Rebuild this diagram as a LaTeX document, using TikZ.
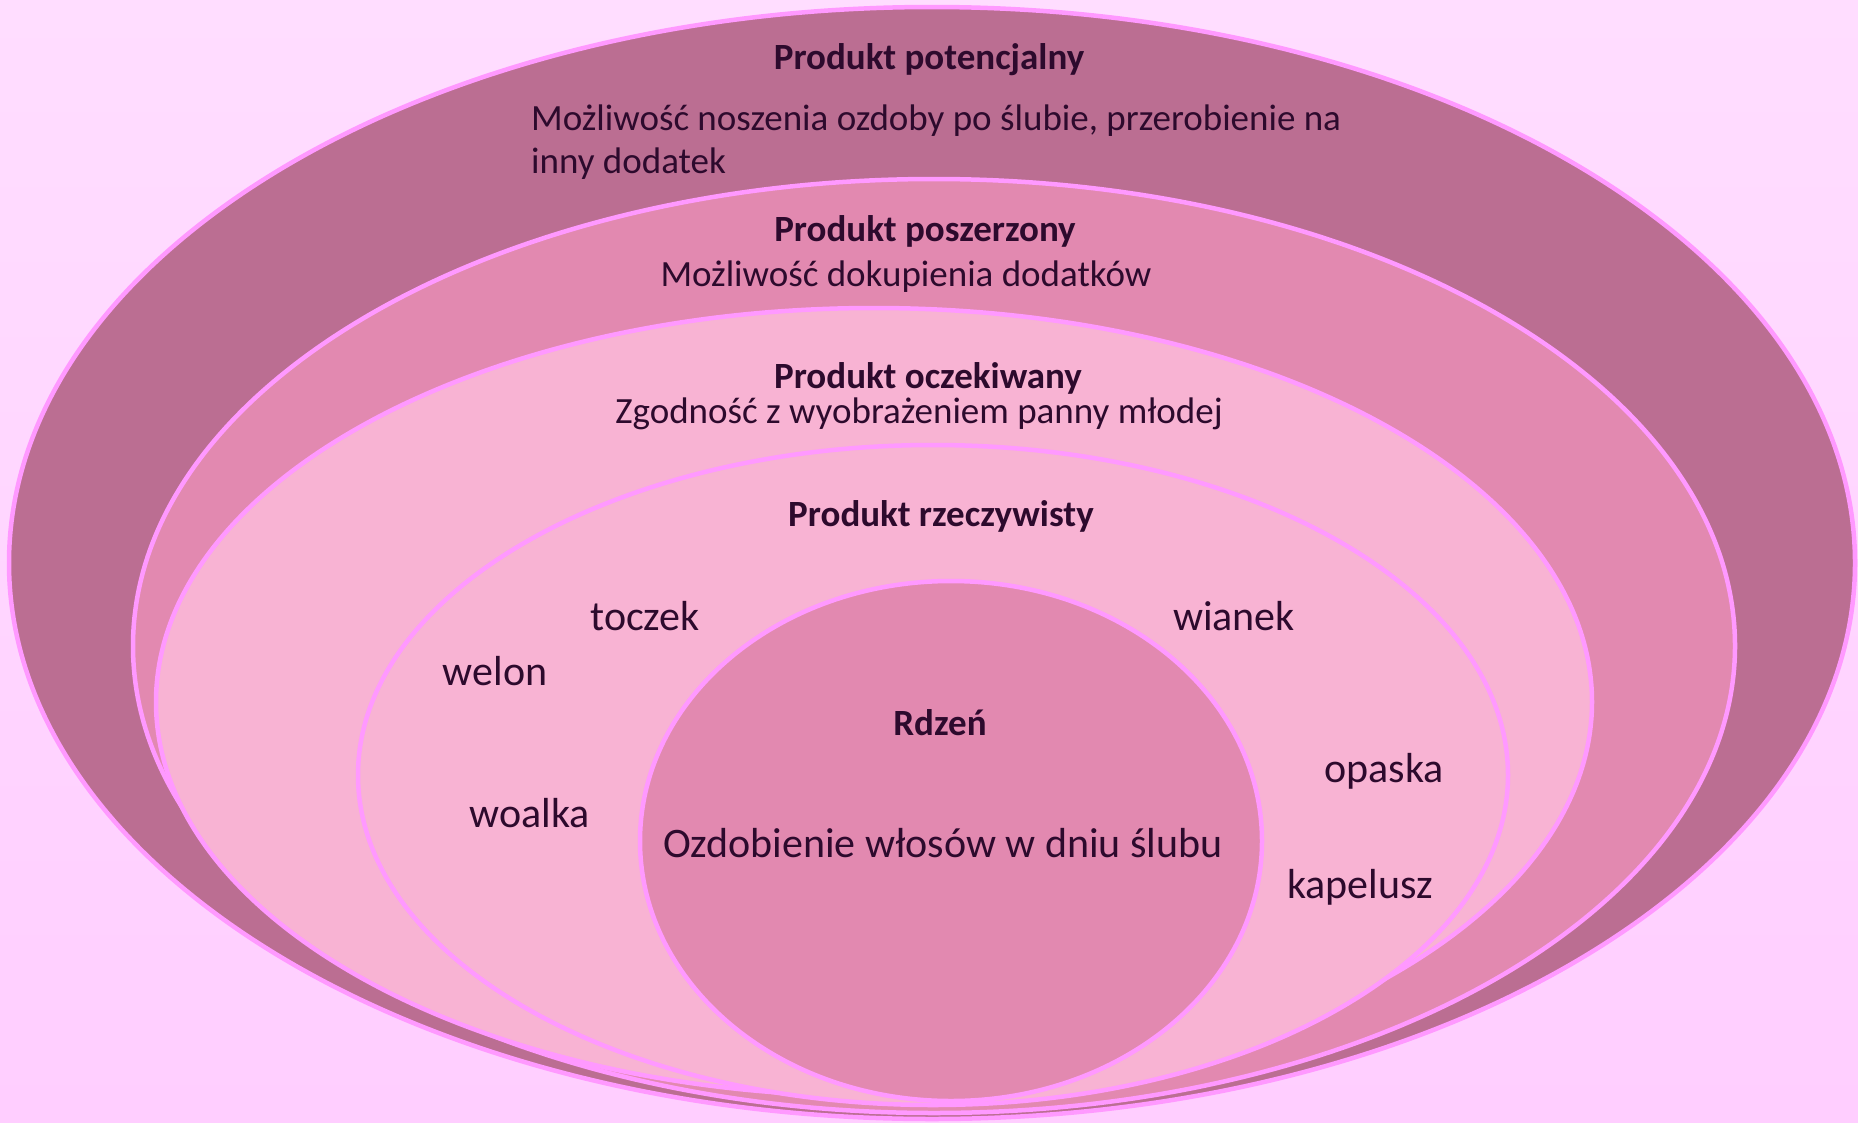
\documentclass[tikz,border=0pt]{standalone}
\usepackage{fontspec}
\setmainfont{Carlito}
\definecolor{bgtop}{RGB}{255,221,255}
\definecolor{bgmid}{RGB}{255,176,255}
\definecolor{bgbot}{RGB}{255,206,255}
\definecolor{ringc}{RGB}{255,153,255}
\definecolor{cdark}{RGB}{187,110,146}
\definecolor{cmid}{RGB}{226,137,176}
\definecolor{clight}{RGB}{248,179,211}
\definecolor{textc}{RGB}{45,10,45}
\begin{document}
\begin{tikzpicture}[x=1pt,y=-1pt,
  ring/.style={draw=ringc, line width=4.5pt},
  lbl/.style={text=textc, inner sep=0pt, anchor=base},
  headtxt/.style={lbl, font=\fontsize{37pt}{44pt}\selectfont\bfseries},
  bodytxt/.style={lbl, font=\fontsize{37pt}{44pt}\selectfont},
  itemtxt/.style={lbl, font=\fontsize{42pt}{50pt}\selectfont}]
\shade[top color=bgtop, middle color=bgmid, bottom color=bgbot] (0,0) rectangle (1858,1122);
\useasboundingbox (0,0) rectangle (1858,1122);
% rings
\draw[ring, fill=cdark]  (932,563) ellipse [x radius=923pt, y radius=556pt];
\draw[ring, fill=cmid]   (934,646) ellipse [x radius=801pt, y radius=467pt];
\draw[ring, fill=clight] (874,702) ellipse [x radius=718pt, y radius=394pt];
\draw[ring, fill=clight] (933,775) ellipse [x radius=575pt, y radius=330pt];
\draw[ring, fill=cmid]   (951,841) ellipse [x radius=311pt, y radius=260pt];
% texts
\node[headtxt] (hpot) at (929,69) {Produkt potencjalny};
\node[bodytxt, anchor=base west] (pot1) at (531,130) {Możliwość noszenia ozdoby po ślubie, przerobienie na};
\node[bodytxt, anchor=base west] (pot2) at (531,173) {inny dodatek};
\node[headtxt] (hposz) at (925,241) {Produkt poszerzony};
\node[bodytxt] (posz) at (906,286) {Możliwość dokupienia dodatków};
\node[headtxt] (hocz) at (928,388) {Produkt oczekiwany};
\node[bodytxt] (ocz) at (919,423) {Zgodność z wyobrażeniem panny młodej};
\node[headtxt] (hrz) at (941,526) {Produkt rzeczywisty};
\node[headtxt] (hrdz) at (940,735) {Rdzeń};
\node[itemtxt] (core) at (943,857) {Ozdobienie włosów w dniu ślubu};
\node[itemtxt] (toczek) at (645,630) {toczek};
\node[itemtxt] (welon) at (495,685) {welon};
\node[itemtxt] (woalka) at (530,827) {woalka};
\node[itemtxt] (wianek) at (1234,630) {wianek};
\node[itemtxt] (opaska) at (1384,782) {opaska};
\node[itemtxt] (kapelusz) at (1360,898) {kapelusz};
\end{tikzpicture}
\end{document}
